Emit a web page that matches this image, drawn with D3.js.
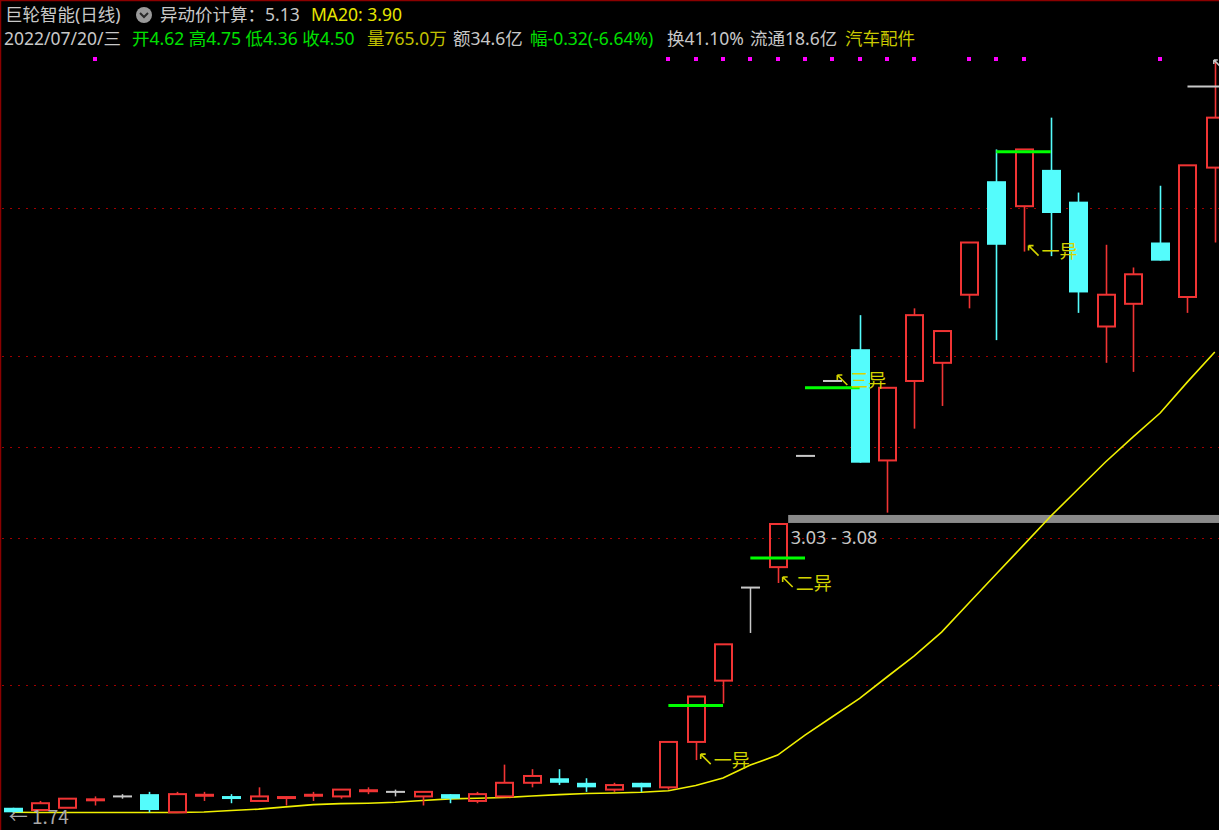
<!DOCTYPE html>
<html><head><meta charset="utf-8">
<script src="https://cdn.jsdelivr.net/npm/d3@7"></script>
<style>html,body{margin:0;padding:0;background:#000;overflow:hidden}</style>
</head><body>
<svg id="chart" width="1219" height="830"></svg>
<script>
// ---------------- data ----------------
const opens  = [1.76,1.75,1.76,1.79,1.81,1.82,1.74,1.81,1.81,1.79,1.80,1.81,1.81,1.83,1.83,1.81,1.82,1.79,1.81,1.87,1.89,1.87,1.84,1.87,1.85,2.05,2.32,2.73,2.82,3.31,3.64,3.78,3.29,3.64,3.72,4.02,4.52,4.41,4.57,4.43,3.88,3.98,4.25,4.01,4.58];
const highs  = [1.76,1.79,1.80,1.81,1.82,1.83,1.83,1.83,1.82,1.85,1.81,1.83,1.84,1.85,1.84,1.83,1.82,1.83,1.95,1.93,1.93,1.89,1.87,1.87,2.05,2.25,2.48,2.73,3.01,3.31,3.64,3.93,3.61,3.96,3.86,4.25,4.66,4.66,4.80,4.47,4.24,4.14,4.50,4.59,5.05];
const lows   = [1.74,1.75,1.76,1.77,1.80,1.74,1.74,1.79,1.78,1.79,1.77,1.79,1.80,1.82,1.81,1.77,1.78,1.78,1.81,1.85,1.86,1.83,1.83,1.83,1.84,1.97,2.22,2.53,2.75,3.31,3.64,3.28,3.06,3.43,3.53,3.96,3.82,4.21,4.19,3.94,3.72,3.68,4.17,3.94,4.25];
const closes = [1.74,1.78,1.80,1.80,1.81,1.75,1.82,1.82,1.80,1.81,1.81,1.82,1.84,1.84,1.83,1.83,1.80,1.82,1.87,1.90,1.87,1.85,1.86,1.85,2.05,2.25,2.48,2.73,3.01,3.31,3.64,3.28,3.61,3.93,3.86,4.25,4.24,4.66,4.38,4.03,4.02,4.11,4.17,4.59,4.80];
const ma20   = [1.740,1.739,1.739,1.739,1.739,1.739,1.739,1.741,1.748,1.754,1.764,1.774,1.778,1.780,1.784,1.792,1.799,1.802,1.805,1.812,1.818,1.823,1.825,1.828,1.835,1.858,1.891,1.948,1.992,2.080,2.161,2.242,2.336,2.429,2.534,2.662,2.790,2.917,3.045,3.164,3.283,3.393,3.499,3.636,3.768];

const gridPrices = [4.40, 3.75, 3.35, 2.95, 2.30];
const signalDots = [3,24,25,26,27,28,29,30,31,32,33,35,36,37,42];
const yidongLines = [ {from:24, to:26, price:2.21}, {from:27, to:29, price:2.86}, {from:29, to:31, price:3.61}, {from:36, to:38, price:4.65} ];
const yidongLabels = [ {idx:25, text:"一异"}, {idx:28, text:"二异"}, {idx:30, text:"三异"}, {idx:37, text:"一异"} ];
const zoneLow = 3.03, zoneHigh = 3.08, zoneStart = 28;
const refLinePrice = 4.94, refLineStart = 43;
const lowestPrice = 1.74, highestPrice = 5.05;

const titleTexts = ["巨轮智能(日线)", "异动价计算：5.13", "MA20: 3.90"];
const infoTexts = ["2022/07/20/三", "开4.62 高4.75 低4.36 收4.50", "量765.0万", "额34.6亿", "幅-0.32(-6.64%)", "换41.10%", "流通18.6亿", "汽车配件"];

// ---------------- drawing ----------------
const W = 1219, H = 830;
const FONT = "'Noto Sans CJK SC','Noto Sans',sans-serif";
const HFONT = "'Noto Sans','Noto Sans CJK SC',sans-serif";
const RED = "#f03434", CYAN = "#54fcfc", WHITE = "#c8c8c8", YEL = "#d4d400", MAC = "#f0f000";
const svg = d3.select("#chart");
svg.append("rect").attr("width", W).attr("height", H).attr("fill", "#000");

const n = closes.length;
const x = d3.scaleLinear().domain([0, n - 1]).range([12.7, 1214.8]);
const y = d3.scaleLinear().domain([1.74, 5.05]).range([812.3, 60.9]);
const bw = 19;

// frame
svg.append("line").attr("x1",0).attr("x2",W).attr("y1",0.5).attr("y2",0.5).attr("stroke","#8b0000").attr("stroke-width",1.5);
svg.append("line").attr("x1",0.5).attr("x2",0.5).attr("y1",0).attr("y2",H).attr("stroke","#8b0000").attr("stroke-width",1.5);

// grid
svg.append("g").selectAll("line").data(gridPrices).join("line")
  .attr("x1", 2).attr("x2", W)
  .attr("y1", d => Math.round(y(d)) + 0.5).attr("y2", d => Math.round(y(d)) + 0.5)
  .attr("stroke", "#a00000").attr("stroke-width", 1).attr("stroke-dasharray", "2,6");

// zone bar
svg.append("rect")
  .attr("x", x(zoneStart) + bw/2 + 1).attr("y", y(zoneLow) - 4.5)
  .attr("width", W - (x(zoneStart) + bw/2 + 1)).attr("height", 8)
  .attr("fill", "#8a8a8a");
svg.append("text").attr("x", x(zoneStart) + 13).attr("y", y(zoneLow) + 25)
  .attr("fill", "#c8c8c8").attr("font-size", 18).attr("font-family", HFONT)
  .text(zoneLow.toFixed(2) + " - " + zoneHigh.toFixed(2));

// MA20
svg.append("path").datum(ma20)
  .attr("d", d3.line().x((d,i) => x(i)).y(d => y(d)))
  .attr("fill", "none").attr("stroke", MAC).attr("stroke-width", 1.6);

// candles
const g = svg.append("g");
for (let i = 0; i < n; i++) {
  const o = opens[i], c = closes[i], h = highs[i], l = lows[i];
  const cx = Math.round(x(i)) + 0.5;
  const col = c > o ? RED : (c < o ? CYAN : WHITE);
  const top = y(Math.max(o, c)), bot = y(Math.min(o, c));
  const bh = bot - top;
  if (h === l && o === c) { // one-price bar
    g.append("rect").attr("x", cx - bw/2).attr("y", y(c) - 1).attr("width", bw).attr("height", 2).attr("fill", WHITE);
    continue;
  }
  if (bh < 2.5) {
    g.append("line").attr("x1", cx).attr("x2", cx).attr("y1", y(h)).attr("y2", y(l)).attr("stroke", col).attr("stroke-width", 1.5);
    g.append("rect").attr("x", cx - bw/2).attr("y", (top + bot)/2 - (c === o ? 1 : 1.5)).attr("width", bw)
      .attr("height", c === o ? 2 : 3).attr("fill", col);
    continue;
  }
  if (c > o) {
    g.append("line").attr("x1", cx).attr("x2", cx).attr("y1", y(h)).attr("y2", top).attr("stroke", col).attr("stroke-width", 1.6);
    g.append("line").attr("x1", cx).attr("x2", cx).attr("y1", bot).attr("y2", y(l)).attr("stroke", col).attr("stroke-width", 1.6);
    g.append("rect").attr("x", cx - bw/2 + 1).attr("y", top).attr("width", bw - 2).attr("height", bh)
      .attr("fill", "none").attr("stroke", col).attr("stroke-width", 2);
  } else {
    g.append("line").attr("x1", cx).attr("x2", cx).attr("y1", y(h)).attr("y2", y(l)).attr("stroke", col).attr("stroke-width", 1.6);
    g.append("rect").attr("x", cx - bw/2).attr("y", top).attr("width", bw).attr("height", bh).attr("fill", col);
  }
}

// reference line
svg.append("line").attr("x1", x(refLineStart)).attr("x2", W)
  .attr("y1", Math.round(y(refLinePrice)) + 0.5).attr("y2", Math.round(y(refLinePrice)) + 0.5)
  .attr("stroke", "#c8c8c8").attr("stroke-width", 2);

// yidong lines
svg.append("g").selectAll("line").data(yidongLines).join("line")
  .attr("x1", d => x(d.from)).attr("x2", d => x(d.to))
  .attr("y1", d => y(d.price)).attr("y2", d => y(d.price))
  .attr("stroke", "#00ff00").attr("stroke-width", 3);

// labels
const lg = svg.append("g");
yidongLabels.forEach(d => {
  const cx = x(d.idx), ly = y(lows[d.idx]);
  const hx = cx + 5, hy = ly - 6, tx = cx + 15, ty = ly + 4;
  lg.append("path").attr("d", `M${hx},${hy} L${tx},${ty} M${hx},${hy} l5,0 M${hx},${hy} l0,5`)
    .attr("stroke", YEL).attr("stroke-width", 1.6).attr("fill", "none");
  lg.append("text").attr("x", cx + 18).attr("y", ly).attr("dy", "0.36em")
    .attr("fill", YEL).attr("font-size", 18).attr("font-family", FONT).text(d.text);
});

// signal dots
svg.append("g").selectAll("rect").data(signalDots).join("rect")
  .attr("x", d => Math.round(x(d)) - 2).attr("y", 57).attr("width", 4).attr("height", 4).attr("fill", "#ff00ff");

// lowest price marker
svg.append("text").attr("x", x(0) - 4).attr("y", y(lowestPrice) + 5).attr("dy", "0.36em")
  .attr("fill", "#a8a8a8").attr("font-size", 19).attr("font-family", FONT).text("← " + lowestPrice.toFixed(2));
// highest price marker arrow (its label runs past the right edge)
{
  const hx = x(n - 1) - 1, hy = y(highestPrice) - 1;
  svg.append("path").attr("d", `M${hx},${hy} L${hx + 8},${hy + 8} M${hx},${hy} l4,0 M${hx},${hy} l0,4`)
    .attr("stroke", "#c8c8c8").attr("stroke-width", 1.5).attr("fill", "none");
}

// header line 1
const t1 = svg.append("g").attr("font-family", HFONT).attr("font-size", 17.5);
t1.append("text").attr("x", 5).attr("y", 20.5).attr("fill", "#c8c8c8").text(titleTexts[0]);
svg.append("circle").attr("cx", 144).attr("cy", 15).attr("r", 8).attr("fill", "#9a9a9a");
svg.append("path").attr("d", "M140,13 L144,17 L148,13").attr("stroke", "#2a2a2a").attr("stroke-width", 2).attr("fill", "none");
t1.append("text").attr("x", 160).attr("y", 20.5).attr("fill", "#c8c8c8").text(titleTexts[1]);
t1.append("text").attr("x", 311).attr("y", 20.5).attr("fill", "#e6e600").text(titleTexts[2]);

// header line 2
const infoX = [4, 132, 367, 453, 530, 667, 750, 845];
const infoCol = ["#c8c8c8", "#00e000", "#c0c000", "#c8c8c8", "#00e000", "#c8c8c8", "#c8c8c8", "#c8c800"];
const t2 = svg.append("g").attr("font-family", HFONT).attr("font-size", 17.5);
infoTexts.forEach((s, i) => t2.append("text").attr("x", infoX[i]).attr("y", 45).attr("fill", infoCol[i]).text(s));
</script>
</body></html>
